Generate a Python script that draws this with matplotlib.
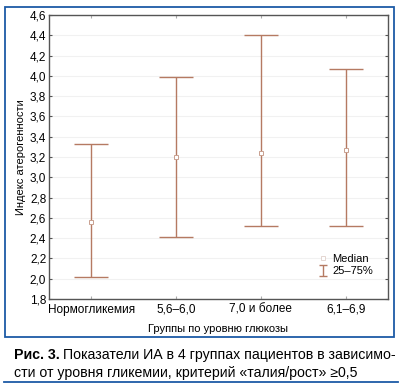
import matplotlib
matplotlib.use('Agg')
import matplotlib.pyplot as plt
from matplotlib.patches import Rectangle
from matplotlib.lines import Line2D
import numpy as np

groups = ['Нормогликемия', '5,6–6,0', '7,0 и более', '6,1–6,9']
medians = [2.56, 3.20, 3.24, 3.27]
q25 = [2.02, 2.41, 2.52, 2.52]
q75 = [3.33, 3.99, 4.40, 4.07]
yticks = np.arange(1.8, 4.61, 0.2)

NARROW = ['Liberation Sans Narrow', 'Liberation Sans', 'DejaVu Sans']
plt.rcParams['font.family'] = ['Liberation Sans', 'DejaVu Sans']

BAR = '#b57a62'
BLUE = '#1d5aa6'
SPINE = '#555555'

fig = plt.figure(figsize=(4.02, 3.87), dpi=100)
W, H = 402, 387


def fx(px):
    return px / W


def fy(py):
    return 1 - py / H


# blue frame around the chart
fig.patches.append(Rectangle((fx(5), fy(337)), fx(394) - fx(5), fy(7) - fy(337),
                             transform=fig.transFigure, fill=False,
                             edgecolor=BLUE, linewidth=1.3))
# rule under the caption
fig.add_artist(Line2D([fx(4), fx(398)], [fy(382), fy(382)],
                      transform=fig.transFigure, color=BLUE, linewidth=1.3))

ax = fig.add_axes([fx(49), fy(299), fx(388) - fx(49), fy(15) - fy(299)])
x = np.arange(len(groups))
med = np.array(medians)
lo = med - np.array(q25)
hi = np.array(q75) - med
ax.errorbar(x, med, yerr=[lo, hi], fmt='none', ecolor=BAR, elinewidth=1.0,
            capsize=12, capthick=1.0, zorder=2)
ax.plot(x, med, 's', markersize=3.5, markerfacecolor='white',
        markeredgecolor='#c9a090', markeredgewidth=0.7, zorder=3)

ax.set_xlim(-0.5, 3.5)
ax.set_ylim(1.8, 4.6)
ax.set_yticks(yticks)
ax.set_yticklabels([f'{v:.1f}'.replace('.', ',') for v in yticks],
                   family=NARROW, fontsize=8.5)
ax.set_xticks(x)
ax.set_xticklabels(groups, family=NARROW, fontsize=8.5)
ax.tick_params(axis='y', left=True, direction='out', length=2,
               color=SPINE, pad=2)
ax.tick_params(axis='y', right=True, direction='in')
ax.tick_params(axis='x', top=True, direction='in', length=2, color='#aaaaaa')
for s in ax.spines.values():
    s.set_color(SPINE)
    s.set_linewidth(1.0)
ax.grid(axis='y', color='#f1f1f1', linewidth=0.8)
ax.set_axisbelow(True)

ax.set_ylabel('Индекс атерогенности', family=NARROW, fontsize=8, labelpad=3)
ax.set_xlabel('Группы по уровню глюкозы', family=NARROW, fontsize=8, labelpad=6)

# legend (dummy errorbar outside the view gives the capped handle)
h_med = Line2D([], [], marker='s', linestyle='none', markersize=3,
               markerfacecolor='white', markeredgecolor='#e0d0ca',
               markeredgewidth=0.6)
h_iqr = ax.errorbar([10], [10], yerr=[[0.1], [0.1]], fmt='none', ecolor=BAR,
                    capsize=3, elinewidth=1.0, capthick=1.0)
ax.set_xlim(-0.5, 3.5)
ax.set_ylim(1.8, 4.6)
leg = ax.legend([h_med, h_iqr], ['Median', '25–75%'], loc='lower right',
                bbox_to_anchor=(0.985, 0.045), frameon=False,
                prop={'family': NARROW, 'size': 8}, handlelength=0.8,
                handletextpad=0.4, labelspacing=0.2)

# caption with bold figure number
renderer = fig.canvas.get_renderer()
cap_x, cap_y1, cap_y2 = fx(14), fy(355), fy(373)
t_bold = fig.text(cap_x, cap_y1, 'Рис. 3.', fontsize=10.2, fontweight='bold',
                  va='center', ha='left')
bb = t_bold.get_window_extent(renderer)
fig.text(bb.x1 / fig.dpi / 4.02 + fx(3), cap_y1,
         'Показатели ИА в 4 группах пациентов в зависимо-',
         fontsize=10.2, va='center', ha='left')
fig.text(cap_x, cap_y2, 'сти от уровня гликемии, критерий «талия/рост» ≥0,5',
         fontsize=10.2, va='center', ha='left')

fig.savefig('out.png', dpi=100)
